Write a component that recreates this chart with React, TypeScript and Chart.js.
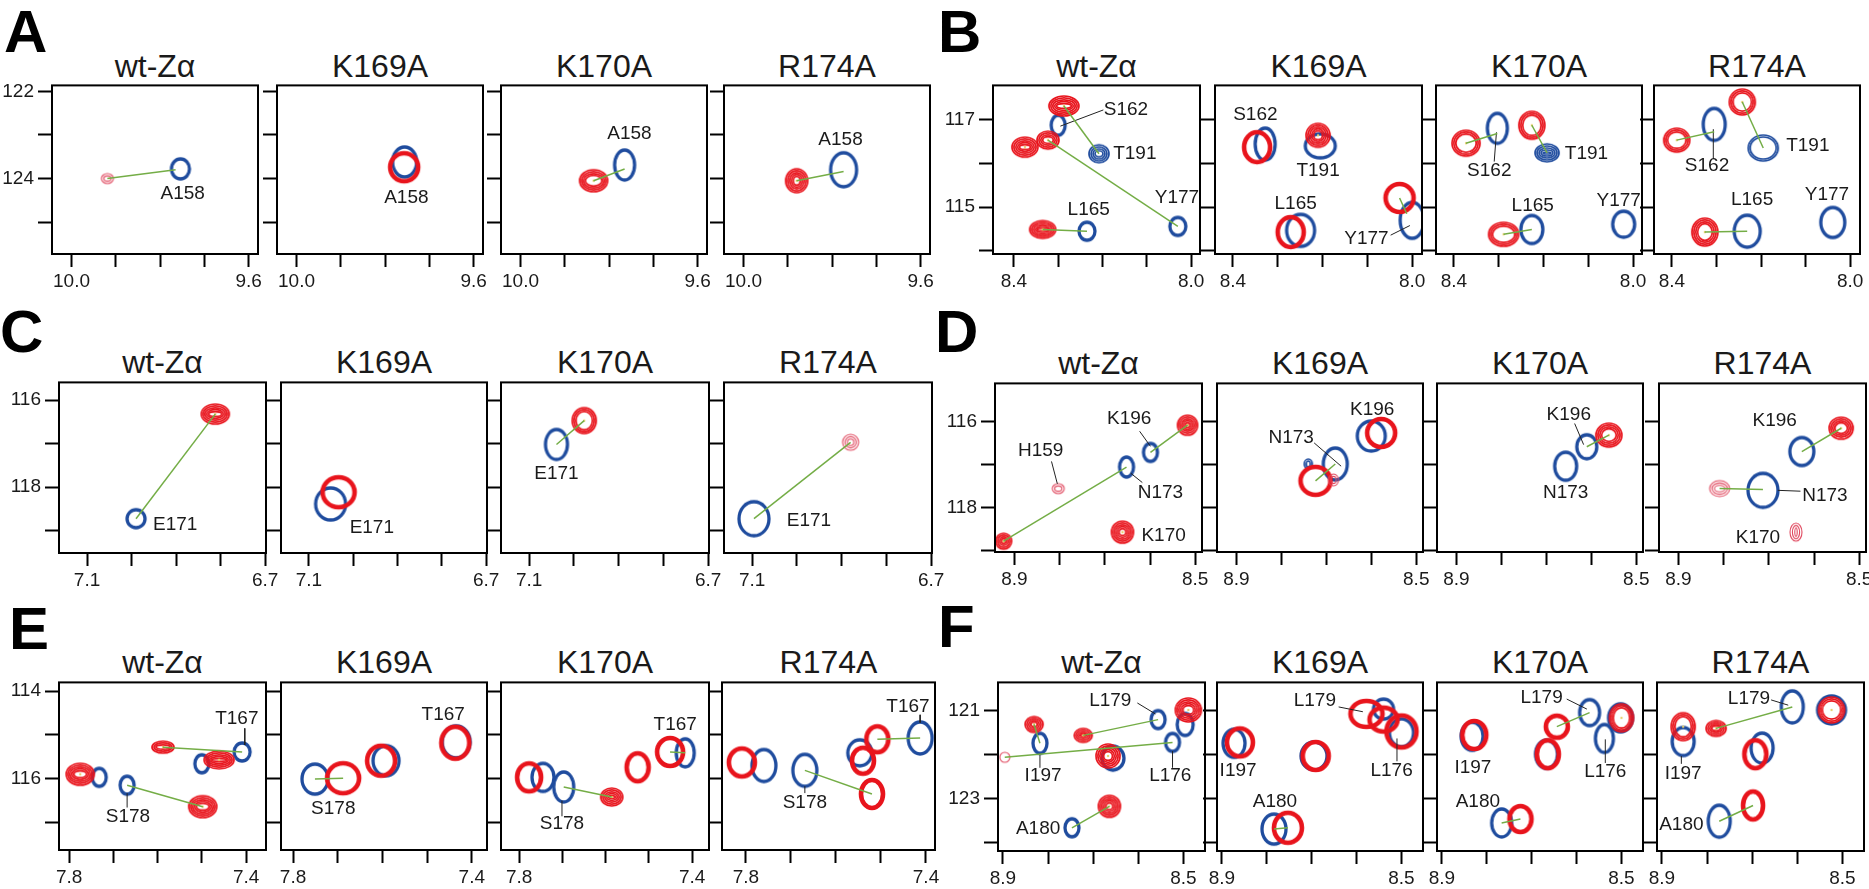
import React, { useEffect, useRef } from 'react';
import { Chart, registerables } from 'chart.js';
Chart.register(...registerables);

const FONT = '"Liberation Sans", Arial, Helvetica, sans-serif';
const BLUE = '#1f4c9e';
const RED = '#e8141c';
const FAINT = '#e04a60';
const GREEN = '#74ad46';
const TEXT = '#1a1a1a';

// ---------------- data ----------------
const mutants = ['wt-Zα', 'K169A', 'K170A', 'R174A'];
const letters = ['A', 'B', 'C', 'D', 'E', 'F'];

// axis ticks (ppm)
const xTicksA = [10.0, 9.9, 9.8, 9.7, 9.6];
const xTicksB = [8.4, 8.3, 8.2, 8.1, 8.0];
const xTicksC = [7.1, 7.0, 6.9, 6.8, 6.7];
const xTicksD = [8.9, 8.8, 8.7, 8.6, 8.5];
const xTicksE = [7.8, 7.7, 7.6, 7.5, 7.4];
const xTicksF = [8.9, 8.8, 8.7, 8.6, 8.5];
const yTicksA = [122, 123, 124, 125];
const yTicksB = [117, 116, 115, 114];
const yTicksC = [116, 117, 118, 119];
const yTicksD = [116, 117, 118, 119];
const yTicksE = [114, 115, 116, 117];
const yTicksF = [121, 122, 123, 124];
const xLabelsA = [10.0, 9.6];
const xLabelsB = [8.4, 8.0];
const xLabelsC = [7.1, 6.7];
const xLabelsD = [8.9, 8.5];
const xLabelsE = [7.8, 7.4];
const xLabelsF = [8.9, 8.5];
const yLabelsA = [122, 124];
const yLabelsB = [117, 115];
const yLabelsC = [116, 118];
const yLabelsD = [116, 118];
const yLabelsE = [114, 116];
const yLabelsF = [121, 123];

// visible ppm windows: x [left, right], y [min, max]
const xRangesA = [[10.044, 9.579], [10.044, 9.579], [10.044, 9.579], [10.044, 9.579]];
const xRangesB = [[8.447, 7.98], [8.44, 7.978], [8.44, 7.98], [8.44, 7.978]];
const xRangesC = [[7.163, 6.698], [7.163, 6.698], [7.163, 6.698], [7.163, 6.698]];
const xRangesD = [[8.943, 8.485], [8.943, 8.485], [8.943, 8.485], [8.943, 8.485]];
const xRangesE = [[7.823, 7.355], [7.827, 7.366], [7.842, 7.361], [7.853, 7.38]];
const xRangesF = [[8.911, 8.452], [8.911, 8.452], [8.911, 8.452], [8.911, 8.452]];
const yRangeA = [121.865, 125.73];
const yRangeB = [113.93, 117.78];
const yRangeC = [115.59, 119.52];
const yRangeD = [115.12, 119.03];
const yRangeE = [113.8, 117.63];
const yRangeF = [120.35, 124.2];

type P = [number, number];
type Seg = [number, number, number, number];
type Lab = [string, number, number];
interface Spectrum {
  blue: P[]; blueR: number[][];
  red: P[]; redR: number[][];
  shift: Seg[]; lab: Lab[]; lead: Seg[];
}

// ---- group A ----
const A_wt: Spectrum = {
  blue: [[9.754, 123.78]], blueR: [[9, 10, 0]],
  red: [[9.919, 124.0]], redR: [[6, 5, -2]],
  shift: [[9.919, 124.0, 9.765, 123.8]],
  lab: [['A158', 9.749, 124.36]], lead: [],
};
const A_K169A: Spectrum = {
  blue: [[9.756, 123.62]], blueR: [[12, 15, 0]],
  red: [[9.757, 123.74]], redR: [[14, 14, 0]],
  shift: [], lab: [['A158', 9.752, 124.45]], lead: [],
};
const A_K170A: Spectrum = {
  blue: [[9.765, 123.69]], blueR: [[10, 15, 0]],
  red: [[9.835, 124.05]], redR: [[14, 11, 4]],
  shift: [[9.835, 124.05, 9.765, 123.78]],
  lab: [['A158', 9.754, 122.97]], lead: [],
};
const A_R174A: Spectrum = {
  blue: [[9.774, 123.8]], blueR: [[13, 17, 0]],
  red: [[9.88, 124.05]], redR: [[11, 12, 5]],
  shift: [[9.88, 124.05, 9.774, 123.84]],
  lab: [['A158', 9.781, 123.12]], lead: [],
};

// ---- group B ----
const B_wt: Spectrum = {
  blue: [[8.30, 116.87], [8.208, 116.22], [8.03, 114.56], [8.235, 114.45]],
  blueR: [[7, 10, 0], [10, 9, 4], [8, 9, 0], [8, 9, 0]],
  red: [[8.287, 117.31], [8.375, 116.37], [8.323, 116.53], [8.335, 114.49]],
  redR: [[15, 10, 5], [13, 10, 5], [11, 9, 4], [13, 9, 5]],
  shift: [[8.287, 117.31, 8.208, 116.22], [8.323, 116.53, 8.03, 114.56], [8.335, 114.49, 8.235, 114.45]],
  lab: [['S162', 8.147, 117.22], ['T191', 8.127, 116.22], ['Y177', 8.032, 115.21], ['L165', 8.231, 114.94]],
  lead: [[8.198, 117.22, 8.295, 116.85]],
};
const B_K169A: Spectrum = {
  blue: [[8.328, 116.44], [8.205, 116.4], [8.249, 114.47], [8.0, 114.70]],
  blueR: [[10, 16, 0], [15, 12, 0], [14, 16, 0], [12, 18, 0]],
  red: [[8.346, 116.37], [8.21, 116.64], [8.271, 114.43], [8.028, 115.21]],
  redR: [[13, 15, 0], [12, 12, 5], [13, 15, 0], [14, 14, 0]],
  shift: [[8.028, 115.21, 8.012, 114.85]],
  lab: [['S162', 8.35, 117.11], ['T191', 8.21, 115.84], ['L165', 8.26, 115.08], ['Y177', 8.102, 114.27]],
  lead: [[8.048, 114.36, 8.005, 114.58]],
};
const B_K170A: Spectrum = {
  blue: [[8.303, 116.8], [8.192, 116.24], [8.226, 114.49], [8.021, 114.61]],
  blueR: [[10, 15, 0], [12, 9, 5], [11, 14, 0], [11, 13, 0]],
  red: [[8.373, 116.46], [8.226, 116.87], [8.289, 114.38]],
  redR: [[14, 13, 3], [13, 14, 3], [15, 12, 3]],
  shift: [[8.373, 116.46, 8.303, 116.68], [8.226, 116.87, 8.192, 116.24], [8.289, 114.38, 8.226, 114.49]],
  lab: [['S162', 8.321, 115.84], ['T191', 8.104, 116.22], ['L165', 8.224, 115.03], ['Y177', 8.032, 115.14]],
  lead: [[8.31, 116.04, 8.305, 116.71]],
};
const B_R174A: Spectrum = {
  blue: [[8.305, 116.89], [8.195, 116.35], [8.231, 114.45], [8.039, 114.65]],
  blueR: [[11, 16, 0], [15, 13, 2], [13, 16, 0], [12, 15, 0]],
  red: [[8.389, 116.53], [8.242, 117.40], [8.326, 114.43]],
  redR: [[13, 12, 3], [13, 13, 3], [13, 14, 4]],
  shift: [[8.389, 116.53, 8.305, 116.72], [8.242, 117.40, 8.195, 116.35], [8.326, 114.43, 8.231, 114.45]],
  lab: [['S162', 8.321, 115.95], ['T191', 8.095, 116.4], ['L165', 8.22, 115.17], ['Y177', 8.052, 115.28]],
  lead: [[8.307, 116.1, 8.307, 116.78]],
};

// ---- group C ----
const C_wt: Spectrum = {
  blue: [[6.99, 118.73]], blueR: [[9, 9, 0]],
  red: [[6.812, 116.32]], redR: [[14, 10, 5]],
  shift: [[6.812, 116.32, 6.99, 118.73]],
  lab: [['E171', 6.902, 118.87]], lead: [],
};
const C_K169A: Spectrum = {
  blue: [[7.051, 118.39]], blueR: [[15, 16, 0]],
  red: [[7.033, 118.12]], redR: [[16, 15, 0]],
  shift: [], lab: [['E171', 6.958, 118.93]], lead: [],
};
const C_K170A: Spectrum = {
  blue: [[7.039, 117.02]], blueR: [[11, 15, 0]],
  red: [[6.977, 116.47]], redR: [[12, 13, 3]],
  shift: [[6.977, 116.47, 7.039, 117.02]],
  lab: [['E171', 7.039, 117.69]], lead: [],
};
const C_R174A: Spectrum = {
  blue: [[7.096, 118.73]], blueR: [[15, 17, 0]],
  red: [[6.88, 116.97]], redR: [[8, 8, -3]],
  shift: [[6.88, 116.97, 7.096, 118.73]],
  lab: [['E171', 6.973, 118.78]], lead: [],
};

// ---- group D ----
const D_wt: Spectrum = {
  blue: [[8.599, 116.72], [8.652, 117.06]], blueR: [[7, 9, 0], [7, 10, 0]],
  red: [[8.517, 116.09], [8.924, 118.78], [8.803, 117.56], [8.661, 118.57]],
  redR: [[10, 10, 5], [8, 8, 4], [6, 5, -2], [11, 11, 5]],
  shift: [[8.599, 116.72, 8.517, 116.09], [8.652, 117.06, 8.924, 118.78]],
  lab: [['K196', 8.646, 115.95], ['H159', 8.842, 116.68], ['N173', 8.577, 117.65], ['K170', 8.57, 118.66]],
  lead: [[8.623, 116.23, 8.599, 116.58], [8.818, 116.93, 8.805, 117.45], [8.643, 117.2, 8.617, 117.42]],
};
const D_K169A: Spectrum = {
  blue: [[8.6, 116.34], [8.68, 116.99], [8.74, 116.99]],
  blueR: [[14, 15, 0], [12, 16, 0], [4, 5, 2]],
  red: [[8.578, 116.27], [8.724, 117.38], [8.684, 117.36]],
  redR: [[14, 14, 0], [15, 14, 0], [5, 6, -2]],
  shift: [[8.724, 117.38, 8.68, 116.99]],
  lab: [['K196', 8.598, 115.73], ['N173', 8.778, 116.38]],
  lead: [[8.727, 116.5, 8.667, 117.04]],
};
const D_K170A: Spectrum = {
  blue: [[8.61, 116.59], [8.657, 117.04]], blueR: [[10, 12, 0], [11, 14, 0]],
  red: [[8.561, 116.32]], redR: [[13, 12, 4]],
  shift: [[8.561, 116.32, 8.61, 116.59]],
  lab: [['K196', 8.65, 115.84], ['N173', 8.657, 117.65]],
  lead: [[8.637, 116.05, 8.617, 116.54]],
};
const D_R174A: Spectrum = {
  blue: [[8.627, 116.7], [8.713, 117.6]], blueR: [[12, 14, 0], [15, 17, 0]],
  red: [[8.54, 116.16], [8.809, 117.56], [8.64, 118.57]],
  redR: [[12, 11, 4], [10, 8, -3], [6, 9, -3]],
  shift: [[8.54, 116.16, 8.627, 116.7], [8.809, 117.56, 8.713, 117.58]],
  lab: [['K196', 8.687, 115.98], ['N173', 8.576, 117.72], ['K170', 8.724, 118.69]],
  lead: [[8.68, 117.6, 8.63, 117.62]],
};

// ---- group E ----
const E_wt: Spectrum = {
  blue: [[7.732, 115.97], [7.669, 116.15], [7.409, 115.39], [7.5, 115.66]],
  blueR: [[7, 9, 0], [7, 9, 0], [8, 9, 0], [7, 9, 0]],
  red: [[7.775, 115.9], [7.498, 116.64], [7.588, 115.28], [7.461, 115.57]],
  redR: [[14, 11, 5], [14, 11, 5], [11, 6, 3], [15, 9, 5]],
  shift: [[7.669, 116.15, 7.498, 116.64], [7.588, 115.28, 7.409, 115.39]],
  lab: [['T167', 7.421, 114.63], ['S178', 7.667, 116.86]],
  lead: [[7.403, 114.85, 7.403, 115.23], [7.669, 116.66, 7.669, 116.33]],
};
const E_K169A: Spectrum = {
  blue: [[7.751, 116.01], [7.592, 115.59], [7.435, 115.16]],
  blueR: [[13, 15, 0], [13, 15, 0], [14, 16, 0]],
  red: [[7.688, 115.99], [7.603, 115.59], [7.437, 115.18]],
  redR: [[16, 15, 0], [14, 15, 0], [14, 16, 0]],
  shift: [[7.751, 116.01, 7.688, 115.99]],
  lab: [['S178', 7.71, 116.68], ['T167', 7.464, 114.54]], lead: [],
};
const E_K170A: Spectrum = {
  blue: [[7.745, 115.97], [7.697, 116.19], [7.416, 115.41]],
  blueR: [[11, 14, 0], [10, 15, 0], [9, 14, 0]],
  red: [[7.777, 115.97], [7.586, 116.42], [7.526, 115.74], [7.451, 115.39]],
  redR: [[12, 14, 0], [11, 9, 5], [11, 14, 0], [13, 14, 0]],
  shift: [[7.697, 116.19, 7.586, 116.42], [7.451, 115.39, 7.416, 115.41]],
  lab: [['S178', 7.701, 117.04], ['T167', 7.439, 114.76]],
  lead: [[7.701, 116.86, 7.701, 116.5]],
};
const E_R174A: Spectrum = {
  blue: [[7.76, 115.7], [7.669, 115.81], [7.547, 115.41], [7.413, 115.07]],
  blueR: [[12, 16, 0], [12, 16, 0], [12, 13, 0], [12, 16, 0]],
  red: [[7.809, 115.63], [7.52, 116.35], [7.54, 115.59], [7.508, 115.1]],
  redR: [[13, 14, 0], [11, 14, 0], [11, 13, 0], [11, 13, 0]],
  shift: [[7.669, 115.81, 7.52, 116.35], [7.508, 115.1, 7.413, 115.07]],
  lab: [['S178', 7.669, 116.55], ['T167', 7.44, 114.36]],
  lead: [[7.669, 116.33, 7.669, 116.17], [7.413, 114.54, 7.413, 114.72]],
};

// ---- group F ----
const F_wt: Spectrum = {
  blue: [[8.818, 121.74], [8.556, 121.2], [8.524, 121.72], [8.496, 121.31], [8.656, 122.08], [8.747, 123.67]],
  blueR: [[7, 10, 0], [7, 9, 0], [7, 9, 0], [8, 11, 0], [11, 12, 0], [7, 9, 0]],
  red: [[8.831, 121.31], [8.722, 121.56], [8.896, 122.06], [8.489, 120.98], [8.667, 122.03], [8.664, 123.18]],
  redR: [[9, 8, 5], [9, 7, 4], [5, 5, -1], [13, 12, 5], [12, 12, 5], [11, 11, 5]],
  shift: [[8.722, 121.56, 8.556, 121.2], [8.896, 122.06, 8.524, 121.72], [8.747, 123.67, 8.664, 123.18], [8.818, 121.74, 8.831, 121.31]],
  lab: [['L179', 8.662, 120.78], ['I197', 8.811, 122.48], ['L176', 8.529, 122.48], ['A180', 8.822, 123.7]],
  lead: [[8.602, 120.82, 8.562, 121.07], [8.818, 122.3, 8.818, 121.97], [8.524, 122.3, 8.524, 121.92]],
};
const F_K169A: Spectrum = {
  blue: [[8.873, 121.74], [8.695, 122.03], [8.54, 120.96], [8.5, 121.5], [8.784, 123.7]],
  blueR: [[11, 14, 0], [13, 14, 0], [10, 10, 0], [12, 14, 0], [12, 15, 0]],
  red: [[8.86, 121.72], [8.691, 122.03], [8.578, 121.07], [8.54, 121.2], [8.5, 121.47], [8.753, 123.67]],
  redR: [[13, 14, 0], [13, 14, 0], [16, 13, 0], [14, 12, 0], [15, 16, 0], [14, 15, 0]],
  shift: [[8.784, 123.7, 8.753, 123.67]],
  lab: [['L179', 8.693, 120.78], ['L176', 8.522, 122.37], ['I197', 8.864, 122.37], ['A180', 8.782, 123.07]],
  lead: [[8.64, 120.91, 8.586, 121.02], [8.51, 122.15, 8.51, 121.63]],
};
const F_K170A: Spectrum = {
  blue: [[8.833, 121.58], [8.767, 123.56], [8.667, 121.99], [8.571, 121.04], [8.538, 121.63], [8.502, 121.16]],
  blueR: [[11, 14, 0], [10, 14, 0], [11, 14, 0], [10, 13, 0], [9, 14, 0], [12, 14, 0]],
  red: [[8.828, 121.55], [8.725, 123.47], [8.644, 121.36], [8.664, 121.99], [8.5, 121.16]],
  redR: [[12, 14, 0], [11, 13, 0], [11, 11, 0], [11, 14, 0], [12, 14, 3]],
  shift: [[8.644, 121.36, 8.571, 121.04], [8.767, 123.56, 8.725, 123.47]],
  lab: [['L179', 8.678, 120.71], ['I197', 8.831, 122.3], ['L176', 8.536, 122.39], ['A180', 8.82, 123.07]],
  lead: [[8.622, 120.73, 8.577, 120.96], [8.536, 122.19, 8.536, 121.65]],
};
const F_R174A: Spectrum = {
  blue: [[8.853, 121.7], [8.611, 120.91], [8.524, 120.98], [8.678, 121.85], [8.773, 123.52]],
  blueR: [[11, 14, 0], [11, 16, 0], [14, 14, 0], [11, 15, 0], [11, 16, 0]],
  red: [[8.853, 121.36], [8.78, 121.4], [8.524, 120.98], [8.693, 121.99], [8.698, 123.16]],
  redR: [[12, 14, 3], [10, 8, 4], [13, 13, 3], [11, 14, 0], [10, 14, 0]],
  shift: [[8.78, 121.4, 8.611, 120.91], [8.773, 123.52, 8.698, 123.16]],
  lab: [['L179', 8.707, 120.73], ['I197', 8.853, 122.44], ['A180', 8.857, 123.61]],
  lead: [[8.658, 120.75, 8.62, 120.87], [8.857, 122.21, 8.857, 122.03]],
};

// ---------------- layout (pixels) ----------------
interface GroupLayout { top: number; bottom: number; lefts: number[]; rights: number[]; titleBase: number; letterPos: [number, number]; }
const layoutA: GroupLayout = { top: 82, bottom: 254, lefts: [52, 277, 501, 724], rights: [258, 483, 707, 930], titleBase: 77, letterPos: [4, 2] };
const layoutB: GroupLayout = { top: 82, bottom: 254, lefts: [993, 1215, 1436, 1654], rights: [1200, 1422, 1642, 1860], titleBase: 77, letterPos: [938, 2] };
const layoutC: GroupLayout = { top: 379, bottom: 553, lefts: [59, 281, 501, 724], rights: [266, 487, 709, 932], titleBase: 373, letterPos: [0, 302] };
const layoutD: GroupLayout = { top: 380, bottom: 552, lefts: [995, 1217, 1437, 1659], rights: [1202, 1423, 1643, 1866], titleBase: 374, letterPos: [935, 302] };
const layoutE: GroupLayout = { top: 679, bottom: 850, lefts: [59, 281, 501, 722], rights: [266, 487, 709, 935], titleBase: 673, letterPos: [9, 599] };
const layoutF: GroupLayout = { top: 679, bottom: 851, lefts: [998, 1217, 1437, 1657], rights: [1205, 1423, 1643, 1864], titleBase: 673, letterPos: [938, 597] };

interface Group {
  layout: GroupLayout; spectra: Spectrum[];
  xTicks: number[]; xLabels: number[]; xRanges: number[][];
  yTicks: number[]; yLabels: number[]; yRange: number[]; yReverse: boolean;
}
const groups: Group[] = [
  { layout: layoutA, spectra: [A_wt, A_K169A, A_K170A, A_R174A], xTicks: xTicksA, xLabels: xLabelsA, xRanges: xRangesA, yTicks: yTicksA, yLabels: yLabelsA, yRange: yRangeA, yReverse: true },
  { layout: layoutB, spectra: [B_wt, B_K169A, B_K170A, B_R174A], xTicks: xTicksB, xLabels: xLabelsB, xRanges: xRangesB, yTicks: yTicksB, yLabels: yLabelsB, yRange: yRangeB, yReverse: false },
  { layout: layoutC, spectra: [C_wt, C_K169A, C_K170A, C_R174A], xTicks: xTicksC, xLabels: xLabelsC, xRanges: xRangesC, yTicks: yTicksC, yLabels: yLabelsC, yRange: yRangeC, yReverse: true },
  { layout: layoutD, spectra: [D_wt, D_K169A, D_K170A, D_R174A], xTicks: xTicksD, xLabels: xLabelsD, xRanges: xRangesD, yTicks: yTicksD, yLabels: yLabelsD, yRange: yRangeD, yReverse: true },
  { layout: layoutE, spectra: [E_wt, E_K169A, E_K170A, E_R174A], xTicks: xTicksE, xLabels: xLabelsE, xRanges: xRangesE, yTicks: yTicksE, yLabels: yLabelsE, yRange: yRangeE, yReverse: true },
  { layout: layoutF, spectra: [F_wt, F_K169A, F_K170A, F_R174A], xTicks: xTicksF, xLabels: xLabelsF, xRanges: xRangesF, yTicks: yTicksF, yLabels: yLabelsF, yRange: yRangeF, yReverse: true },
];

// ---------------- contour glyphs ----------------
const glyphCache = new Map<string, HTMLCanvasElement>();
function contourGlyph(kind: 'b' | 'r', rx: number, ry: number, n: number): HTMLCanvasElement {
  const key = `${kind}|${rx}|${ry}|${n}`;
  const hit = glyphCache.get(key);
  if (hit) return hit;
  const pad = 5;
  const c = document.createElement('canvas');
  c.width = Math.ceil(2 * rx + 2 * pad);
  c.height = Math.ceil(2 * ry + 2 * pad);
  const ctx = c.getContext('2d')!;
  const cx = c.width / 2;
  const cy = c.height / 2;
  const ring = (a: number, b: number, lw: number, col: string) => {
    if (a < 1 || b < 1) return;
    ctx.beginPath();
    ctx.ellipse(cx, cy, a, b, 0, 0, Math.PI * 2);
    ctx.lineWidth = lw;
    ctx.strokeStyle = col;
    ctx.stroke();
  };
  if (kind === 'b') {
    if (n <= 1) ring(rx, ry, 3.3, BLUE);
    else for (let i = 0; i < n; i++) ring(rx - i * 2.0, ry - i * 2.0, 1.7, BLUE);
  } else {
    if (n === 0) ring(rx, ry, 4.6, RED);
    else if (n > 0) {
      for (let i = 0; i < n; i++) ring(rx - i * 1.9, ry - i * 1.9, 1.7, RED);
      ctx.beginPath();
      ctx.arc(cx, cy, 1.2, 0, Math.PI * 2);
      ctx.fillStyle = '#e8d070';
      ctx.fill();
    } else for (let i = 0; i < -n; i++) ring(rx - i * 2.4, ry - i * 2.4, 1.1, FAINT);
  }
  glyphCache.set(key, c);
  return c;
}

const framePlugin = {
  id: 'frame',
  afterDraw(chart: any) {
    const { ctx, chartArea: a } = chart;
    ctx.save();
    ctx.strokeStyle = '#000';
    ctx.lineWidth = 2;
    ctx.strokeRect(a.left, a.top, a.right - a.left, a.bottom - a.top);
    ctx.restore();
  },
};

const PADL = 50;
const PADR = 20;
const PADT = 12;
const PADB = 40;

function Panel({ group, index }: { group: Group; index: number }) {
  const ref = useRef<HTMLCanvasElement>(null);
  const { layout } = group;
  const left = layout.lefts[index];
  const w = layout.rights[index] - left;
  const h = layout.bottom - layout.top;
  const spec = group.spectra[index];
  useEffect(() => {
    if (!ref.current) return;
    const datasets: any[] = [];
    spec.shift.forEach((s) => datasets.push({
      data: [{ x: s[0], y: s[1] }, { x: s[2], y: s[3] }], showLine: true,
      borderColor: GREEN, borderWidth: 1.5, pointRadius: 0, order: 0, clip: 0,
    }));
    spec.lead.forEach((s) => datasets.push({
      data: [{ x: s[0], y: s[1] }, { x: s[2], y: s[3] }], showLine: true,
      borderColor: '#222', borderWidth: 1, pointRadius: 0, order: 1, clip: false,
    }));
    const redImgs = spec.redR.map((r) => contourGlyph('r', r[0], r[1], r[2]));
    const blueImgs = spec.blueR.map((r) => contourGlyph('b', r[0], r[1], r[2]));
    datasets.push({
      data: spec.red.map((p) => ({ x: p[0], y: p[1] })), showLine: false,
      pointStyle: (c: any) => redImgs[c.dataIndex], pointRadius: 10, order: 2, clip: 0,
    });
    datasets.push({
      data: spec.blue.map((p) => ({ x: p[0], y: p[1] })), showLine: false,
      pointStyle: (c: any) => blueImgs[c.dataIndex], pointRadius: 10, order: 3, clip: 0,
    });
    const labelPlugin = {
      id: 'peakLabels',
      afterDatasetsDraw(chart: any) {
        const { ctx, scales } = chart;
        ctx.save();
        ctx.font = `19px ${FONT}`;
        ctx.fillStyle = TEXT;
        ctx.textAlign = 'center';
        ctx.textBaseline = 'middle';
        spec.lab.forEach((l) => {
          ctx.fillText(l[0], scales.x.getPixelForValue(l[1]), scales.y.getPixelForValue(l[2]));
        });
        ctx.restore();
      },
    };
    const xr = group.xRanges[index];
    const showY = index === 0;
    const chart = new Chart(ref.current, {
      type: 'scatter',
      data: { datasets },
      options: {
        animation: false,
        responsive: false,
        events: [],
        layout: { padding: { top: PADT, right: PADR, left: 0, bottom: 0 } },
        plugins: { legend: { display: false }, tooltip: { enabled: false }, title: { display: false } },
        scales: {
          x: {
            type: 'linear', reverse: true, min: xr[1], max: xr[0],
            afterBuildTicks: (s: any) => { s.ticks = group.xTicks.map((v) => ({ value: v })); },
            afterFit: (s: any) => { s.height = PADB; },
            border: { display: false },
            grid: { drawOnChartArea: false, drawTicks: true, tickLength: 13, tickWidth: 2, tickColor: '#000' },
            ticks: {
              autoSkip: false, maxRotation: 0, minRotation: 0, padding: 3, color: TEXT,
              font: { family: FONT, size: 19 },
              callback: (v: any) => (group.xLabels.includes(v) ? Number(v).toFixed(1) : ''),
            },
          },
          y: {
            type: 'linear', reverse: group.yReverse, min: group.yRange[0], max: group.yRange[1],
            afterBuildTicks: (s: any) => { s.ticks = group.yTicks.map((v) => ({ value: v })); },
            afterFit: (s: any) => { s.width = PADL; },
            border: { display: false },
            grid: { drawOnChartArea: false, drawTicks: true, tickLength: 14, tickWidth: 2, tickColor: '#000' },
            ticks: {
              autoSkip: false, padding: 4, color: TEXT,
              font: { family: FONT, size: 19 },
              callback: (v: any) => (showY && group.yLabels.includes(v) ? String(v) : ''),
            },
          },
        },
      } as any,
      plugins: [framePlugin, labelPlugin],
    });
    return () => chart.destroy();
  }, [group, index, spec]);
  return (
    <canvas
      ref={ref}
      width={w + PADL + PADR}
      height={h + PADT + PADB}
      style={{ position: 'absolute', left: left - PADL, top: layout.top - PADT, width: w + PADL + PADR, height: h + PADT + PADB }}
    />
  );
}

export default function App() {
  return (
    <div style={{ position: 'absolute', left: 0, top: 0, width: 1869, height: 889, background: '#fff', overflow: 'hidden', fontFamily: FONT }}>
      {groups.map((g, gi) => (
        <React.Fragment key={gi}>
          <div style={{ position: 'absolute', left: g.layout.letterPos[0], top: g.layout.letterPos[1], fontSize: 60, lineHeight: '60px', fontWeight: 'bold', color: '#000' }}>
            {letters[gi]}
          </div>
          {mutants.map((m, i) => (
            <div key={m} style={{ position: 'absolute', left: g.layout.lefts[i], width: g.layout.rights[i] - g.layout.lefts[i], top: g.layout.titleBase - 27, fontSize: 32, lineHeight: '32px', textAlign: 'center', whiteSpace: 'nowrap', color: TEXT }}>
              {m}
            </div>
          ))}
          {mutants.map((m, i) => <Panel key={'p' + i} group={g} index={i} />)}
        </React.Fragment>
      ))}
    </div>
  );
}
